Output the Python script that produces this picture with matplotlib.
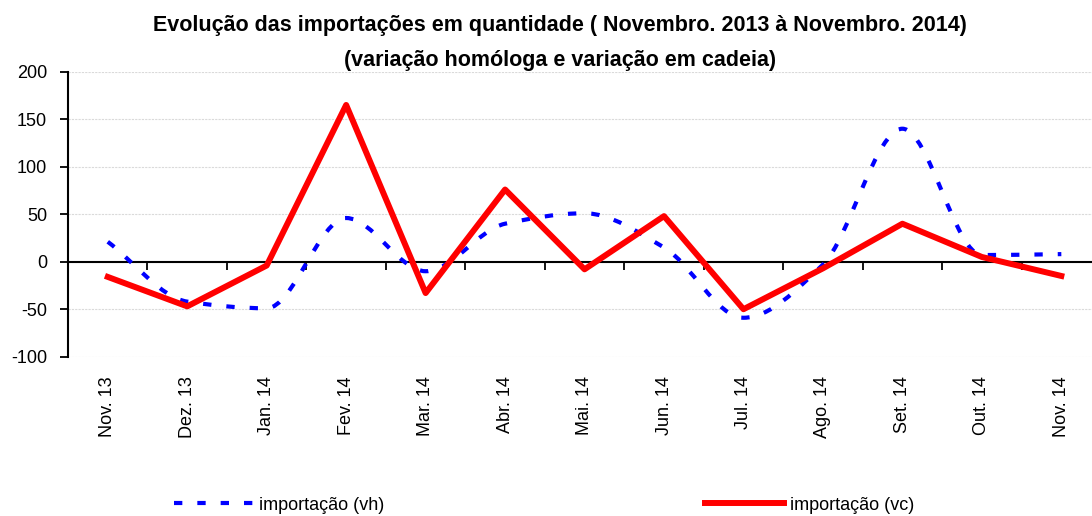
import numpy as np
import matplotlib.pyplot as plt
from matplotlib.path import Path
from matplotlib.patches import PathPatch
from matplotlib.lines import Line2D

plt.rcParams['font.family'] = ['Liberation Sans', 'DejaVu Sans']
plt.rcParams['axes.unicode_minus'] = False

# data
meses = ["Nov. 13", "Dez. 13", "Jan. 14", "Fev. 14", "Mar. 14", "Abr. 14", "Mai. 14",
         "Jun. 14", "Jul. 14", "Ago. 14", "Set. 14", "Out. 14", "Nov. 14"]
vh = [21, -42, -49, 46, -10, 40, 51, 15, -59, -3, 140, 7, 8]
vc = [-16, -47, -4, 165, -33, 76, -8, 48, -50, -7, 40, 5, -15]

fig = plt.figure(figsize=(10.92, 5.16), dpi=100)
ax = fig.add_axes([0.0623, 0.3087, 0.946, 0.5523])

x = np.arange(len(meses))

# smoothed dashed line: bezier segments through the points,
# tangents kept flat at local peaks/valleys (no overshoot, like the original)
y = np.array(vh, dtype=float)
d = np.diff(y)
m = np.zeros_like(y)
m[0], m[-1] = d[0], d[-1]
for i in range(1, len(y) - 1):
    if d[i - 1] * d[i] > 0:
        m[i] = 2 / (1 / d[i - 1] + 1 / d[i])
verts = [(x[0], y[0])]
codes = [Path.MOVETO]
for i in range(len(y) - 1):
    verts += [(x[i] + 1 / 3, y[i] + m[i] / 3),
              (x[i + 1] - 1 / 3, y[i + 1] - m[i + 1] / 3),
              (x[i + 1], y[i + 1])]
    codes += [Path.CURVE4] * 3
blue_dash = (0, (2.0, 3.6))
patch = PathPatch(Path(verts, codes), facecolor="none", edgecolor="#0000ff",
                  lw=3.0, linestyle=blue_dash, capstyle="butt", zorder=3)
ax.add_patch(patch)

ax.plot(x, vc, color="#ff0000", lw=4.3, solid_joinstyle="round", zorder=4)

ax.set_xlim(-0.5, 12.5)
ax.set_ylim(-100, 200)
ax.set_yticks(np.arange(-100, 201, 50))
ax.yaxis.grid(True, color="#dadada", lw=0.8, linestyle=(0, (2, 1)))
ax.set_axisbelow(True)
ax.tick_params(axis="y", labelsize=13, length=6, width=1.3, pad=9)

for s in ["top", "right"]:
    ax.spines[s].set_visible(False)
ax.spines["left"].set_linewidth(1.5)
ax.spines["bottom"].set_position(("data", 0))
ax.spines["bottom"].set_linewidth(1.5)
ax.set_xticks(np.arange(-0.5, 13, 1))
ax.tick_params(axis="x", labelbottom=False, length=6, width=1.3, direction="out")

sec = ax.secondary_xaxis("bottom")
sec.set_xticks(x)
sec.set_xticklabels(meses, rotation=90, fontsize=13)
sec.tick_params(length=0, pad=14)
sec.spines["bottom"].set_visible(False)

fig.text(0.513, 0.950, "Evolução das importações em quantidade ( Novembro. 2013 à Novembro. 2014)",
         ha="center", va="center", fontsize=15.5, fontweight="bold")
fig.text(0.513, 0.882, "(variação homóloga e variação em cadeia)",
         ha="center", va="center", fontsize=15.5, fontweight="bold")

h1 = Line2D([], [], color="#0000ff", lw=3.0, linestyle=blue_dash, dash_capstyle="butt")
h2 = Line2D([], [], color="#ff0000", lw=4.3)
for h, lab, xpos in [(h1, "importação (vh)", 0.1593), (h2, "importação (vc)", 0.6456)]:
    fig.legend(handles=[h], labels=[lab], loc="center left", bbox_to_anchor=(xpos, 0.021),
               frameon=False, fontsize=13, handlelength=4.4, handletextpad=0.3,
               borderpad=0, borderaxespad=0)

fig.savefig("out.png", dpi=100)
